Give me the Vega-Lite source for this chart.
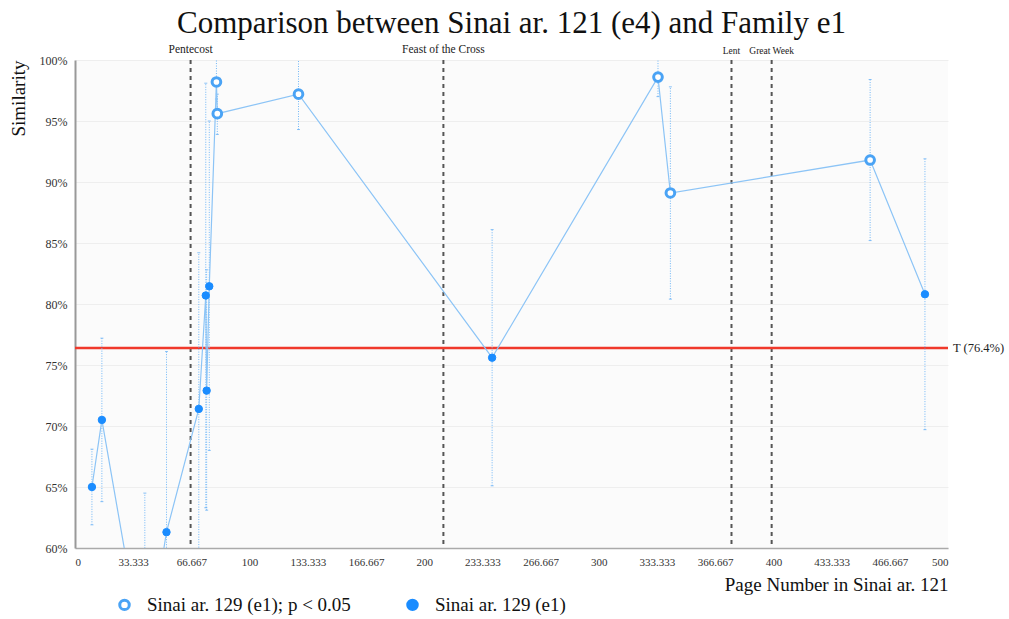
{
  "$schema": "https://vega.github.io/schema/vega-lite/v6.json",
  "width": 873,
  "height": 488,
  "autosize": {"type": "none"},
  "padding": {"left": 75, "top": 60, "right": 61, "bottom": 71},
  "background": "white",
  "config": {
    "font": "Liberation Serif",
    "view": {"fill": "#fbfbfb", "stroke": null},
    "axisY": {"grid": true, "gridColor": "#eeeeee", "domainColor": "#999999", "domainWidth": 2, "ticks": false, "labelFontSize": 12, "labelColor": "#333333", "labelPadding": 8, "titleFontSize": 19, "titleFontWeight": "normal", "titleColor": "#111111", "titleAnchor": "end", "titlePadding": 11},
    "axisX": {"grid": false, "domainColor": "#aaaaaa", "domainWidth": 1.5, "ticks": false, "labelFontSize": 11, "labelColor": "#333333", "labelPadding": 8, "titleFontSize": 19, "titleFontWeight": "normal", "titleColor": "#111111", "titleAnchor": "end", "titlePadding": 8},
    "legend": {"orient": "none", "legendX": 40, "legendY": 535, "direction": "horizontal", "labelFontSize": 19, "labelColor": "#111111", "labelLimit": 400, "symbolSize": 90, "symbolStrokeWidth": 3, "columnPadding": 50, "labelOffset": 13}
  },
  "title": {"text": "Comparison between Sinai ar. 121 (e4) and Family e1", "fontSize": 31, "fontWeight": "normal", "color": "#111111", "anchor": "middle", "offset": 4},
  "datasets": {
    "pts": [
      {"page": 9.7, "sim": 65.0, "lo": 61.9, "hi": 68.1, "series": "Sinai ar. 129 (e1)"},
      {"page": 15.4, "sim": 70.5, "lo": 63.8, "hi": 77.2, "series": "Sinai ar. 129 (e1)"},
      {"page": 40.0, "sim": 50.3, "lo": 36.0, "hi": 64.5, "series": "Sinai ar. 129 (e1)"},
      {"page": 52.4, "sim": 61.3, "lo": 46.5, "hi": 76.1, "series": "Sinai ar. 129 (e1)"},
      {"page": 70.9, "sim": 71.4, "lo": 58.6, "hi": 84.2, "series": "Sinai ar. 129 (e1)"},
      {"page": 74.9, "sim": 80.7, "lo": 63.3, "hi": 98.1, "series": "Sinai ar. 129 (e1)"},
      {"page": 75.4, "sim": 72.9, "lo": 63.1, "hi": 82.8, "series": "Sinai ar. 129 (e1)"},
      {"page": 76.9, "sim": 81.45, "lo": 68.0, "hi": 95.0, "series": "Sinai ar. 129 (e1)"},
      {"page": 81.0, "sim": 98.2, "lo": 96.8, "hi": 100.8, "series": "Sinai ar. 129 (e1); p < 0.05"},
      {"page": 81.5, "sim": 95.6, "lo": 93.9, "hi": 97.2, "series": "Sinai ar. 129 (e1); p < 0.05"},
      {"page": 128.0, "sim": 97.2, "lo": 94.3, "hi": 100.6, "series": "Sinai ar. 129 (e1); p < 0.05"},
      {"page": 238.9, "sim": 75.6, "lo": 65.1, "hi": 86.1, "series": "Sinai ar. 129 (e1)"},
      {"page": 333.9, "sim": 98.6, "lo": 97.0, "hi": 100.8, "series": "Sinai ar. 129 (e1); p < 0.05"},
      {"page": 341.0, "sim": 89.1, "lo": 80.4, "hi": 97.8, "series": "Sinai ar. 129 (e1); p < 0.05"},
      {"page": 455.4, "sim": 91.8, "lo": 85.2, "hi": 98.4, "series": "Sinai ar. 129 (e1); p < 0.05"},
      {"page": 486.8, "sim": 80.8, "lo": 69.7, "hi": 91.9, "series": "Sinai ar. 129 (e1)"}
    ],
    "events": [
      {"event": "Pentecost", "page": 66.2},
      {"event": "Feast of the Cross", "page": 211.0},
      {"event": "Lent", "page": 376.0},
      {"event": "Great Week", "page": 399.0}
    ],
    "thr": [{"t": 76.4, "label": "T (76.4%)", "page": 500}]
  },
  "layer": [
    {
      "data": {"name": "events"},
      "mark": {"type": "rule", "strokeDash": [4, 4], "strokeWidth": 2, "color": "#555555"},
      "encoding": {
        "x": {"field": "page", "type": "quantitative", "scale": {"domain": [0, 500], "nice": false, "zero": true}, "title": "Page Number in Sinai ar. 121",
          "axis": {"values": [0, 33.333, 66.667, 100, 133.333, 166.667, 200, 233.333, 266.667, 300, 333.333, 366.667, 400, 433.333, 466.667, 500], "format": ".3~f"}}
      }
    },
    {
      "data": {"name": "events"},
      "transform": [{"filter": "datum.event == 'Pentecost' || datum.event == 'Feast of the Cross'"}],
      "mark": {"type": "text", "baseline": "bottom", "dy": -5, "fontSize": 11.5, "color": "#222222"},
      "encoding": {
        "x": {"field": "page", "type": "quantitative", "title": "Page Number in Sinai ar. 121"},
        "y": {"datum": 100, "type": "quantitative", "title": "Similarity"},
        "text": {"field": "event"}
      }
    },
    {
      "data": {"name": "events"},
      "transform": [{"filter": "datum.event == 'Lent' || datum.event == 'Great Week'"}],
      "mark": {"type": "text", "baseline": "bottom", "dy": -4, "fontSize": 9.5, "color": "#222222"},
      "encoding": {
        "x": {"field": "page", "type": "quantitative", "title": "Page Number in Sinai ar. 121"},
        "y": {"datum": 100, "type": "quantitative", "title": "Similarity"},
        "text": {"field": "event"}
      }
    },
    {
      "data": {"name": "thr"},
      "mark": {"type": "rule", "color": "#f0392b", "strokeWidth": 2.5},
      "encoding": {
        "y": {"field": "t", "type": "quantitative", "title": "Similarity", "scale": {"domain": [60, 100], "nice": false, "zero": false},
          "axis": {"values": [60, 65, 70, 75, 80, 85, 90, 95, 100], "labelExpr": "datum.value + '%'"}}
      }
    },
    {
      "data": {"name": "thr"},
      "mark": {"type": "text", "align": "left", "dx": 5, "fontSize": 12.5, "color": "#222222"},
      "encoding": {
        "x": {"field": "page", "type": "quantitative", "title": "Page Number in Sinai ar. 121"},
        "y": {"field": "t", "type": "quantitative", "title": "Similarity"},
        "text": {"field": "label"}
      }
    },
    {
      "data": {"name": "pts"},
      "mark": {"type": "rule", "clip": true, "strokeDash": [1, 1.5], "strokeWidth": 1, "color": "#6fb6f7"},
      "encoding": {
        "x": {"field": "page", "type": "quantitative", "title": "Page Number in Sinai ar. 121"},
        "y": {"field": "lo", "type": "quantitative", "title": "Similarity"},
        "y2": {"field": "hi"}
      }
    },
    {
      "data": {"name": "pts"},
      "mark": {"type": "tick", "clip": true, "orient": "horizontal", "size": 3, "thickness": 1, "color": "#5aaaf5"},
      "encoding": {
        "x": {"field": "page", "type": "quantitative", "title": "Page Number in Sinai ar. 121"},
        "y": {"field": "lo", "type": "quantitative", "title": "Similarity"}
      }
    },
    {
      "data": {"name": "pts"},
      "mark": {"type": "tick", "clip": true, "orient": "horizontal", "size": 3, "thickness": 1, "color": "#5aaaf5"},
      "encoding": {
        "x": {"field": "page", "type": "quantitative", "title": "Page Number in Sinai ar. 121"},
        "y": {"field": "hi", "type": "quantitative", "title": "Similarity"}
      }
    },
    {
      "data": {"name": "pts"},
      "mark": {"type": "line", "clip": true, "color": "#8cc4f6", "strokeWidth": 1.2},
      "encoding": {
        "x": {"field": "page", "type": "quantitative", "title": "Page Number in Sinai ar. 121"},
        "y": {"field": "sim", "type": "quantitative", "title": "Similarity"}
      }
    },
    {
      "data": {"name": "pts"},
      "mark": {"type": "point", "clip": true, "filled": true, "shape": "circle", "opacity": 1},
      "encoding": {
        "x": {"field": "page", "type": "quantitative", "title": "Page Number in Sinai ar. 121"},
        "y": {"field": "sim", "type": "quantitative", "title": "Similarity"},
        "fill": {"field": "series", "type": "nominal", "title": null,
          "scale": {"domain": ["Sinai ar. 129 (e1); p < 0.05", "Sinai ar. 129 (e1)"], "range": ["#ffffff", "#1a8cff"]}},
        "stroke": {"field": "series", "type": "nominal", "title": null,
          "scale": {"domain": ["Sinai ar. 129 (e1); p < 0.05", "Sinai ar. 129 (e1)"], "range": ["#4aa3f5", "#1a8cff"]}},
        "size": {"condition": {"test": "datum.series == 'Sinai ar. 129 (e1); p < 0.05'", "value": 75}, "value": 55},
        "strokeWidth": {"condition": {"test": "datum.series == 'Sinai ar. 129 (e1); p < 0.05'", "value": 3}, "value": 1}
      }
    }
  ]
}
